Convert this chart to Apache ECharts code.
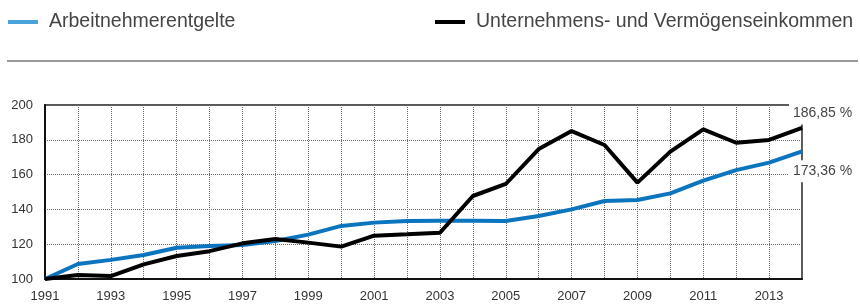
<!DOCTYPE html>
<html>
<head>
<meta charset="utf-8">
<script src="https://cdn.jsdelivr.net/npm/echarts@6/dist/echarts.min.js"></script>
<style>
  html, body { margin: 0; padding: 0; background: #fff; }
  #chart { width: 860px; height: 304px; }
</style>
</head>
<body>
<div id="chart"></div>
<script>
  // Index 1991 = 100
  var years = ['1991', '1992', '1993', '1994', '1995', '1996', '1997', '1998', '1999', '2000',
    '2001', '2002', '2003', '2004', '2005', '2006', '2007', '2008', '2009', '2010',
    '2011', '2012', '2013', '2014'];
  var arbeitnehmer = [100, 108.6, 111, 113.8, 118, 119, 119.5, 121.8, 125.5, 130.5,
    132.4, 133.3, 133.5, 133.5, 133.3, 136.2, 140, 144.8, 145.4, 149.2,
    156.5, 162.6, 166.9, 173.36];
  var unternehmen = [100, 102.3, 101.7, 108.4, 113.2, 116, 120.5, 123, 120.9, 118.6,
    124.9, 125.7, 126.6, 147.7, 154.6, 174.7, 185, 177, 155.4, 173.2,
    186, 178.3, 179.9, 186.85];
  var names = ['Arbeitnehmerentgelte', 'Unternehmens- und Vermögenseinkommen'];

  var FONT = 'Liberation Sans';

  function fmt(v) {
    return v.toFixed(2).replace('.', ',') + ' %';
  }

  // white-boxed value label at the last point of a series
  function endPoint(values, dy) {
    var last = values.length - 1;
    return {
      symbol: 'circle',
      symbolSize: 0,
      silent: true,
      data: [{ coord: [years[last], values[last]], value: values[last] }],
      label: {
        show: true,
        position: 'right',
        distance: 0,
        offset: [-13, dy],
        formatter: function (p) { return fmt(p.value); },
        color: '#444',
        fontFamily: FONT,
        fontSize: 14,
        backgroundColor: '#fff',
        padding: [4, 4, 4, 4]
      }
    };
  }

  function legendFor(name, color, left) {
    return {
      left: left,
      top: 12,
      padding: 0,
      icon: 'rect',
      itemWidth: 30,
      itemHeight: 4,
      data: [{ name: name, itemStyle: { color: color } }],
      textStyle: { color: '#444', fontSize: 19.5, fontFamily: FONT, padding: [0, 0, 0, 6] }
    };
  }

  var chart = echarts.init(document.getElementById('chart'));
  chart.setOption({
    animation: false,
    textStyle: { fontFamily: FONT },
    graphic: [{
      type: 'line',
      shape: { x1: 7, y1: 61, x2: 858, y2: 61 },
      style: { stroke: '#777', lineWidth: 1.5 }
    }],
    legend: [legendFor(names[0], '#4ba3dc', 8), legendFor(names[1], '#000', 435)],
    grid: {
      left: 45,
      right: 58,
      top: 105,
      bottom: 25,
      show: true,
      borderColor: '#222',
      borderWidth: 1.5
    },
    xAxis: {
      type: 'category',
      data: years,
      boundaryGap: false,
      axisLine: { lineStyle: { color: '#111', width: 2 } },
      axisTick: { show: false },
      axisLabel: { interval: 1, margin: 11, color: '#333', fontSize: 13, fontFamily: FONT },
      splitLine: {
        show: true,
        interval: 0,
        lineStyle: { color: '#666', type: [1, 1], width: 1 }
      }
    },
    yAxis: {
      type: 'value',
      min: 100,
      max: 200,
      interval: 20,
      axisLine: { show: true, lineStyle: { color: '#111', width: 2 } },
      axisTick: { show: false },
      axisLabel: { margin: 12, color: '#333', fontSize: 13, fontFamily: FONT },
      splitLine: { lineStyle: { color: '#666', type: [1, 1], width: 1 } }
    },
    series: [{
      name: names[0],
      type: 'line',
      data: arbeitnehmer,
      symbol: 'none',
      z: 3,
      itemStyle: { color: '#0b74bf' },
      lineStyle: { color: '#0b74bf', width: 4 },
      markPoint: endPoint(arbeitnehmer, 20)
    }, {
      name: names[1],
      type: 'line',
      data: unternehmen,
      symbol: 'none',
      z: 4,
      itemStyle: { color: '#000' },
      lineStyle: { color: '#000', width: 4 },
      markPoint: endPoint(unternehmen, -14.5)
    }]
  });
</script>
</body>
</html>
